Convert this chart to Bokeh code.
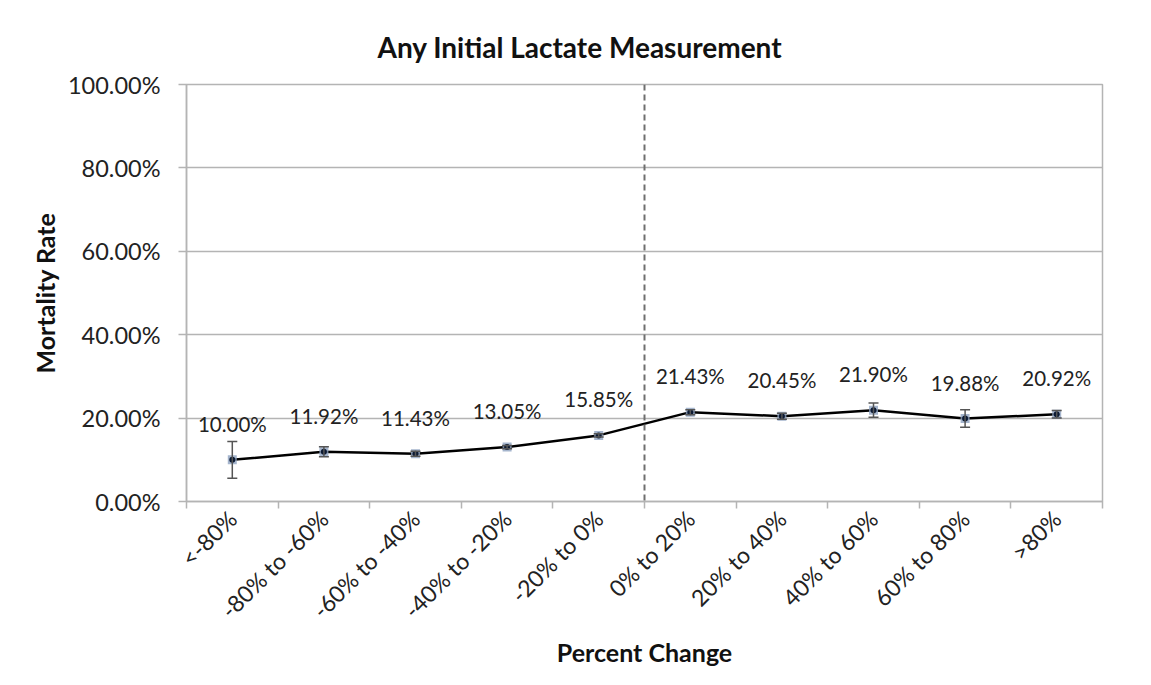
import math
from bokeh.plotting import figure
from bokeh.models import (FixedTicker, Span, Whisker, TeeHead, ColumnDataSource,
                          PrintfTickFormatter, Range1d)
from bokeh.core.properties import value
from bokeh.embed import file_html
from bokeh.resources import INLINE

# ---------------- data ----------------
categories = ["<-80%", "-80% to -60%", "-60% to -40%", "-40% to -20%", "-20% to 0%",
              "0% to 20%", "20% to 40%", "40% to 60%", "60% to 80%", ">80%"]
mortality = [10.00, 11.92, 11.43, 13.05, 15.85, 21.43, 20.45, 21.90, 19.88, 20.92]
error = [4.4, 1.2, 0.6, 0.4, 0.4, 0.6, 0.7, 1.7, 2.1, 0.9]
y_ticks = [0, 20, 40, 60, 80, 100]
divider = 5  # boundary between decreasing and increasing lactate

FONT = "Lato"
GRAY = "#b4b4b4"
TXT = "#222222"

centers = [i + 0.5 for i in range(len(categories))]
src = ColumnDataSource(dict(
    x=centers,
    y=mortality,
    upper=[m + e for m, e in zip(mortality, error)],
    lower=[m - e for m, e in zip(mortality, error)],
    label=["%.2f%%" % m for m in mortality],
))

p = figure(width=1135, height=669, output_backend="svg", toolbar_location=None,
           x_range=Range1d(0, len(categories)), y_range=Range1d(0, 100),
           min_border_left=186, min_border_right=33, min_border_top=84, min_border_bottom=160,
           background_fill_color="white", border_fill_color="white")

p.title.text = "Any Initial Lactate Measurement"
p.title.text_font = FONT
p.title.text_font_size = "28px"
p.title.text_font_style = "bold"
p.title.text_color = "#111111"
p.title.align = "left"
p.title.offset = 191
p.title.standoff = 41

p.outline_line_color = GRAY
p.outline_line_width = 1.5

# x axis
xa = p.xaxis[0]
xa.ticker = FixedTicker(ticks=centers, minor_ticks=list(range(len(categories) + 1)))
xa.major_label_overrides = {c: cat for c, cat in zip(centers, categories)}
xa.major_label_orientation = math.pi / 4
xa.major_tick_line_color = None
xa.minor_tick_line_color = GRAY
xa.minor_tick_line_width = 1.5
xa.minor_tick_in = 0
xa.minor_tick_out = 7
xa.axis_line_color = GRAY
xa.axis_line_width = 1.5
xa.major_label_text_font = FONT
xa.major_label_text_font_size = "23px"
xa.major_label_text_color = TXT
xa.major_label_standoff = 6
xa.axis_label = "Percent Change"
xa.axis_label_text_font = FONT
xa.axis_label_text_font_size = "25px"
xa.axis_label_text_font_style = "bold"
xa.axis_label_text_color = "#111111"
xa.axis_label_standoff = 0

# y axis
ya = p.yaxis[0]
ya.ticker = FixedTicker(ticks=y_ticks)
ya.formatter = PrintfTickFormatter(format="%.2f%%")
ya.major_tick_line_color = GRAY
ya.major_tick_line_width = 1.5
ya.major_tick_in = 0
ya.major_tick_out = 8
ya.minor_tick_line_color = None
ya.axis_line_color = GRAY
ya.axis_line_width = 1.5
ya.major_label_text_font = FONT
ya.major_label_text_font_size = "23.5px"
ya.major_label_text_color = TXT
ya.major_label_standoff = 18
ya.axis_label = "Mortality Rate"
ya.axis_label_text_font = FONT
ya.axis_label_text_font_size = "25px"
ya.axis_label_text_font_style = "bold"
ya.axis_label_text_color = "#111111"
ya.axis_label_standoff = 5

p.xgrid.grid_line_color = None
p.ygrid.ticker = FixedTicker(ticks=y_ticks)
p.ygrid.grid_line_color = GRAY
p.ygrid.grid_line_width = 1.5

# dashed divider
p.add_layout(Span(location=divider, dimension="height", line_color="#6e6e6e",
                  line_dash="6 4", line_width=2))

# line
p.line("x", "y", source=src, line_color="black", line_width=2.5)

# error bars
p.add_layout(Whisker(source=src, base="x", upper="upper", lower="lower",
                     line_color="#555555", line_width=1.5,
                     upper_head=TeeHead(size=10, line_color="#555555", line_width=1.5),
                     lower_head=TeeHead(size=10, line_color="#555555", line_width=1.5),
                     level="glyph"))

# markers
p.scatter("x", "y", source=src, marker="square", size=9, fill_color="#8ea3c0",
          line_color=None, fill_alpha=0.8)
p.scatter("x", "y", source=src, marker="circle", size=6, fill_color="#0c1a33",
          line_color=None)

# data labels
p.text("x", "y", text="label", source=src, text_font=value(FONT), text_font_size="20.5px",
       text_align="center", text_baseline="middle", y_offset=-36, text_color=TXT)

open("out.html", "w").write(file_html(p, INLINE))
